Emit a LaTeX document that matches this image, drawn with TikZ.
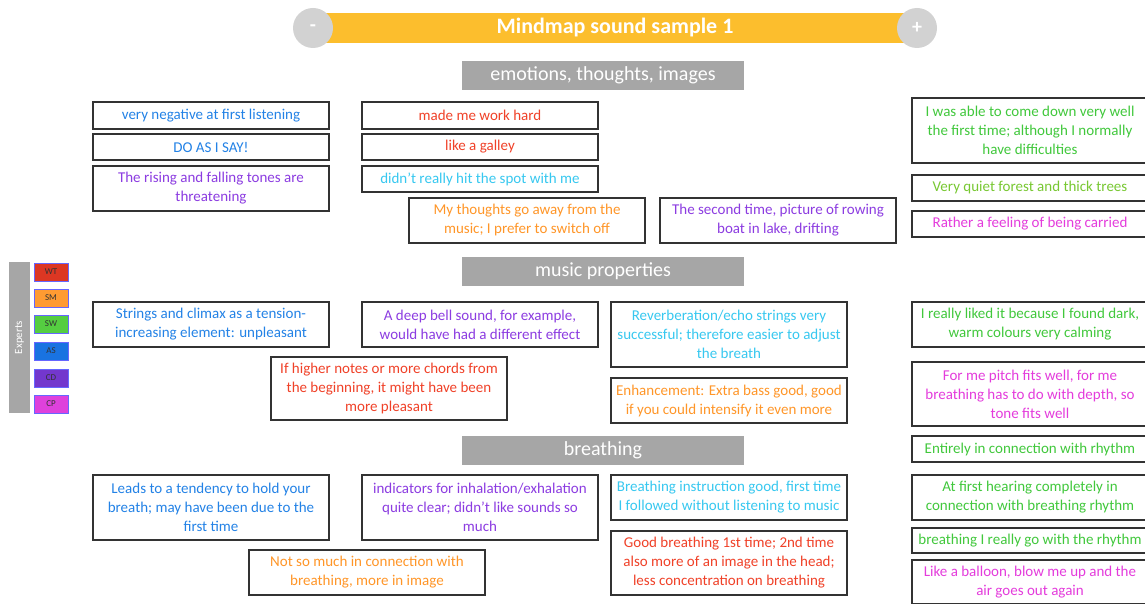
\documentclass[tikz,border=0pt]{standalone}
\usepackage{fontspec}
\setmainfont{Carlito}
\usepackage{tikz}

\definecolor{cblue}{RGB}{35,130,230}
\definecolor{cpurple}{RGB}{140,60,225}
\definecolor{cred}{RGB}{240,65,40}
\definecolor{ccyan}{RGB}{55,200,240}
\definecolor{corange}{RGB}{255,150,40}
\definecolor{cgreen}{RGB}{65,200,60}
\definecolor{clime}{RGB}{120,200,50}
\definecolor{cpink}{RGB}{228,60,220}
\definecolor{cbar}{RGB}{252,190,45}
\definecolor{chead}{RGB}{166,166,166}
\definecolor{ccircle}{RGB}{210,210,210}
\definecolor{xwt}{RGB}{220,55,35}
\definecolor{xsm}{RGB}{255,155,50}
\definecolor{xsw}{RGB}{85,205,65}
\definecolor{xas}{RGB}{25,115,225}
\definecolor{xcd}{RGB}{115,55,205}
\definecolor{xcp}{RGB}{222,65,220}

\begin{document}
\begin{tikzpicture}[x=1pt,y=-1pt,
    note/.style={draw=black!80,line width=1.3pt,fill=white,minimum width=236,
                 align=center,inner sep=1pt,font=\fontsize{15}{19}\selectfont},
    head/.style={fill=chead,text=white,minimum width=282,minimum height=29,
                 inner sep=0pt,font=\fontsize{20}{22}\selectfont},
    expert/.style={draw=blue!60,line width=0.8pt,minimum width=34,minimum height=18,
                   inner sep=0pt,text=black!80,font=\fontsize{9}{10}\selectfont}]
             \clip (0,0) rectangle (1145,604);
             % title bar
             \node[fill=cbar,minimum width=600,minimum height=30,text=white,
                   font=\fontsize{22}{24}\selectfont\bfseries] (title) at (615,28) {Mindmap sound sample 1};
             \node[circle,fill=ccircle,minimum size=40,text=white,font=\fontsize{20}{22}\selectfont\bfseries] (minus) at (313,28) {-};
             \node[circle,fill=ccircle,minimum size=40,text=white,font=\fontsize{20}{22}\selectfont\bfseries] (plus) at (917,28) {+};
             % experts legend
             \node[fill=chead,minimum width=21,minimum height=151,inner sep=0pt] (experts) at (19.5,337.5) {};
             \node[rotate=90,text=white,font=\fontsize{11}{12}\selectfont] at (experts) {Experts};
             \node[expert,fill=xwt] (wt) at (51,272) {WT};
             \node[expert,fill=xsm] (sm) at (51,298) {SM};
             \node[expert,fill=xsw] (sw) at (51,324) {SW};
             \node[expert,fill=xas] (as) at (51,351) {AS};
             \node[expert,fill=xcd] (cd) at (51,378) {CD};
             \node[expert,fill=xcp] (cp) at (51,404) {CP};
             % emotions, thoughts, images
             \node[head] (emotions) at (603,75.5) {emotions, thoughts, images};
             \node[note,minimum height=27,text=cblue] (negative) at (211,115.5) {very negative at first listening};
             \node[note,minimum height=26,text=cblue] (doasisay) at (211,147) {DO AS I SAY!};
             \node[note,minimum height=45,text=cpurple] (rising) at (211,188.5) {The rising and falling tones are\\threatening};
             \node[note,minimum height=27,text=cred] (workhard) at (480,115.5) {made me work hard};
             \node[note,minimum height=26,text=cred] (galley) at (480,147) {like a galley};
             \node[note,minimum height=26,text=ccyan] (spot) at (480,179) {didn't really hit the spot with me};
             \node[note,minimum height=45,text=corange] (switchoff) at (527,220.5) {My thoughts go away from the\\music; I prefer to switch off};
             \node[note,minimum height=45,text=cpurple] (rowing) at (778,220.5) {The second time, picture of rowing\\boat in lake, drifting};
             \node[note,minimum height=65,text=cgreen] (comedown) at (1030,130.5) {I was able to come down very well\\the first time; although I normally\\have difficulties};
             \node[note,minimum height=26,text=clime] (forest) at (1030,188) {Very quiet forest and thick trees};
             \node[note,minimum height=26,text=cpink] (carried) at (1030,224) {Rather a feeling of being carried};
             % music properties
             \node[head] (music) at (603,271.5) {music properties};
             \node[note,minimum height=45,text=cblue] (strings) at (211,324.5) {Strings and climax as a tension-\\increasing element: unpleasant};
             \node[note,minimum height=45,text=cpurple] (bell) at (480,324.5) {A deep bell sound, for example,\\would have had a different effect};
             \node[note,minimum height=65,text=ccyan] (reverb) at (729,334.5) {Reverberation/echo strings very\\successful; therefore easier to adjust\\the breath};
             \node[note,minimum height=63,text=cred] (higher) at (389,388.5) {If higher notes or more chords from\\the beginning, it might have been\\more pleasant};
             \node[note,minimum height=45,text=corange] (bass) at (729,400.5) {Enhancement: Extra bass good, good\\if you could intensify it even more};
             \node[note,minimum height=45,text=cgreen] (dark) at (1030,324.5) {I really liked it because I found dark,\\warm colours very calming};
             \node[note,minimum height=64,text=cpink] (pitch) at (1030,394) {For me pitch fits well, for me\\breathing has to do with depth, so\\tone fits well};
             \node[note,minimum height=26,text=cgreen] (rhythm) at (1030,449) {Entirely in connection with rhythm};
             % breathing
             \node[head] (breathing) at (603,450.5) {breathing};
             \node[note,minimum height=65,text=cblue] (hold) at (211,507.5) {Leads to a tendency to hold your\\breath; may have been due to the\\first time};
             \node[note,minimum height=65,text=cpurple] (inhale) at (480,507.5) {indicators for inhalation/exhalation\\quite clear; didn't like sounds so\\much};
             \node[note,minimum height=45,text=corange] (image) at (367,572.5) {Not so much in connection with\\breathing, more in image};
             \node[note,minimum height=45,text=ccyan] (instruction) at (729,497.5) {Breathing instruction good, first time\\I followed without listening to music};
             \node[note,minimum height=64,text=cred] (firsttime) at (729,563) {Good breathing 1st time; 2nd time\\also more of an image in the head;\\less concentration on breathing};
             \node[note,minimum height=45,text=cgreen] (hearing) at (1030,497.5) {At first hearing completely in\\connection with breathing rhythm};
             \node[note,minimum height=25,text=cgreen] (gowith) at (1030,540.5) {breathing I really go with the rhythm};
             \node[note,minimum height=44,text=cpink] (balloon) at (1030,582) {Like a balloon, blow me up and the\\air goes out again};
            \end{tikzpicture}
\end{document}
